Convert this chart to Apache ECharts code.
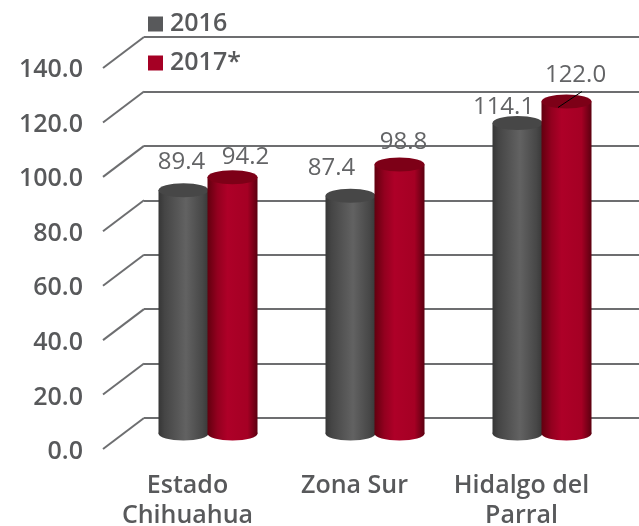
<!DOCTYPE html>
<html>
<head>
<meta charset="utf-8">
<script src="https://cdn.jsdelivr.net/npm/echarts@6/dist/echarts.min.js"></script>
<style>html,body{margin:0;padding:0;background:#fff}#c{width:639px;height:526px}</style>
</head>
<body>
<div id="c"></div>
<script>
const categories = ['Estado\nChihuahua', 'Zona Sur', 'Hidalgo del\nParral'];
const seriesNames = ['2016', '2017*'];
const values2016 = [89.4, 87.4, 114.1];
const values2017 = [94.2, 98.8, 122.0];
const ticks = [0, 20, 40, 60, 80, 100, 120, 140];

const FONT = '"Open Sans", "Noto Sans", sans-serif';
const TEXT = '#58595b';
const halfBar = 24.5, rx = 25, ry = 7;
const labelShift = {
  '2016': [[-2, -28], [-19, -27], [-14, -16]],
  '2017*': [[13, -20], [4, -22], [9, -26]]
};
const palette = {
  '2016': { top: '#474747', stops: [[0, '#363636'], [0.12, '#454545'], [0.55, '#626262'], [0.88, '#474747'], [1, '#383838']] },
  '2017*': { top: '#7d0017', stops: [[0, '#62000f'], [0.2, '#93001f'], [0.4, '#ae0028'], [0.8, '#a50024'], [1, '#5c0010']] }
};

function cylinder(name, side) {
  return function (params, api) {
    const i = api.value(0), v = api.value(1);
    const top = api.coord([i, v]), base = api.coord([i, 0]);
    const cx = top[0] + side * halfBar;
    const p = palette[name];
    const fill = new echarts.graphic.LinearGradient(0, 0, 1, 0,
      p.stops.map(s => ({ offset: s[0], color: s[1] })));
    const off = labelShift[name][i];
    const children = [
      { type: 'ellipse', shape: { cx: cx, cy: base[1], rx: rx, ry: ry }, style: { fill: fill } },
      { type: 'rect', shape: { x: cx - rx, y: top[1], width: rx * 2, height: base[1] - top[1] }, style: { fill: fill } },
      { type: 'ellipse', shape: { cx: cx, cy: top[1], rx: rx, ry: ry }, style: { fill: p.top } },
      { type: 'text', z2: 10, style: {
          x: cx + off[0], y: top[1] + off[1], text: v.toFixed(1), fill: '#636466',
          font: '400 24px ' + FONT, align: 'center', verticalAlign: 'middle' } }
    ];
    if (name === '2017*' && i === 2) {
      children.push({ type: 'line', z2: 11,
        shape: { x1: cx - 8.5, y1: top[1] + 6, x2: cx + 15.5, y2: top[1] - 10 },
        style: { stroke: '#000', lineWidth: 1 } });
    }
    return { type: 'group', children: children };
  };
}

function diagonal(params, api) {
  const p = api.coord([0, api.value(0)]);
  return { type: 'line',
    shape: { x1: p[0], y1: p[1], x2: p[0] - 41, y2: p[1] + 31 },
    style: { stroke: '#6d6e70', lineWidth: 2 } };
}

const hiddenY = { type: 'value', min: 0, max: 140, interval: 20, show: false };
const chart = echarts.init(document.getElementById('c'), null, { renderer: 'canvas' });
chart.setOption({
  animation: false,
  backgroundColor: '#fff',
  legend: {
    orient: 'vertical', left: 148, top: 10, padding: 0, itemWidth: 15, itemHeight: 15, itemGap: 11,
    icon: 'rect', selectedMode: false,
    textStyle: { fontFamily: FONT, fontSize: 25, fontWeight: 600, color: TEXT, padding: [0, 0, 0, 2], lineHeight: 28 },
    data: seriesNames
  },
  grid: [
    { left: 104, width: 501, top: 70, height: 382, outerBoundsMode: 'none' },
    { left: 144, right: 0, top: 37, height: 381, outerBoundsMode: 'none' },
    { left: 124.5, width: 501, top: 52.5, height: 381, outerBoundsMode: 'none' }
  ],
  xAxis: [
    { type: 'category', gridIndex: 0, data: categories,
      axisLine: { show: false }, axisTick: { show: false },
      axisLabel: { margin: 19, interval: 0, fontFamily: FONT, fontSize: 25, fontWeight: 600, color: TEXT, lineHeight: 30 } },
    { type: 'value', gridIndex: 1, min: 0, max: 1, show: false },
    { type: 'category', gridIndex: 2, data: categories, show: false }
  ],
  yAxis: [
    { type: 'value', gridIndex: 0, min: 0, max: 140, interval: 20,
      axisLine: { show: false }, axisTick: { show: false }, splitLine: { show: false },
      axisLabel: { margin: 21, fontFamily: FONT, fontSize: 25, fontWeight: 600, color: TEXT,
        formatter: v => v.toFixed(1) } },
    { type: 'value', gridIndex: 1, min: 0, max: 140, interval: 20,
      axisLine: { show: false }, axisTick: { show: false }, axisLabel: { show: false },
      splitLine: { show: true, lineStyle: { color: '#6d6e70', width: 2 } } },
    Object.assign({ gridIndex: 2 }, hiddenY)
  ],
  series: [
    { type: 'custom', name: 'walls', xAxisIndex: 1, yAxisIndex: 1, silent: true, z: 1,
      data: ticks.map(t => [t]), encode: { y: 0 }, renderItem: diagonal },
    { type: 'custom', name: seriesNames[0], xAxisIndex: 2, yAxisIndex: 2, z: 3,
      itemStyle: { color: '#58595b' },
      data: values2016.map((v, i) => [i, v]), encode: { x: 0, y: 1 }, renderItem: cylinder(seriesNames[0], -1) },
    { type: 'custom', name: seriesNames[1], xAxisIndex: 2, yAxisIndex: 2, z: 4,
      itemStyle: { color: '#a50024' },
      data: values2017.map((v, i) => [i, v]), encode: { x: 0, y: 1 }, renderItem: cylinder(seriesNames[1], 1) }
  ]
});
</script>
</body>
</html>
